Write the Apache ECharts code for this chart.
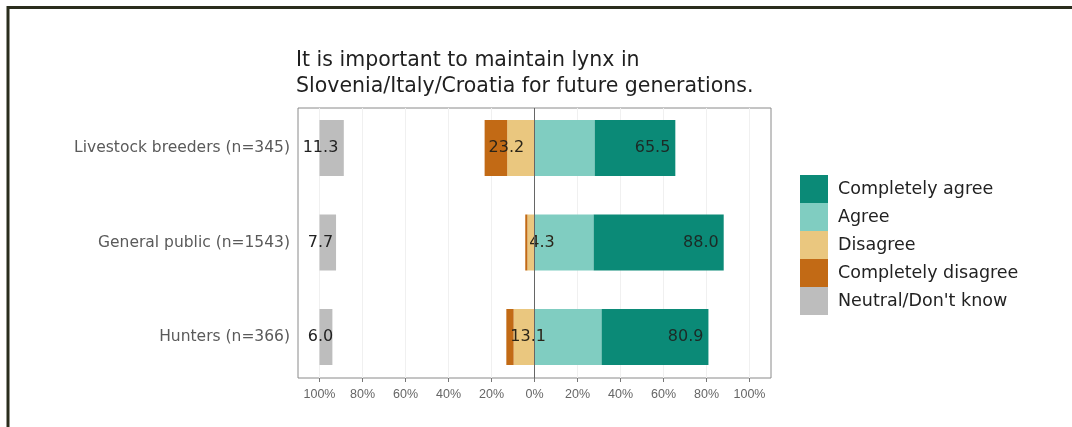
<!DOCTYPE html>
<html>
<head>
<meta charset="utf-8">
<script src="https://cdn.jsdelivr.net/npm/echarts@6/dist/echarts.min.js"></script>
<style>
  html, body { margin: 0; padding: 0; background: #fff; }
  #chart { width: 1072px; height: 427px; }
</style>
</head>
<body>
<div id="chart"></div>
<script>
// groups, top to bottom
var groups = ['Livestock breeders (n=345)', 'General public (n=1543)', 'Hunters (n=366)'];
// shares in percent
var completelyAgree = [37.5, 60.5, 49.7];
var agree = [28.0, 27.5, 31.2];
var disagree = [12.7, 3.3, 9.7];
var completelyDisagree = [10.5, 1.0, 3.4];
var neutral = [11.3, 7.7, 6.0];
// printed totals
var agreeTotal = ['65.5', '88.0', '80.9'];
var disagreeTotal = ['23.2', '4.3', '13.1'];
var neutralTotal = ['11.3', '7.7', '6.0'];
var xTicks = [-100, -80, -60, -40, -20, 0, 20, 40, 60, 80, 100];

var colors = {
    ca: '#0b8a77',
    a: '#80cdc1',
    d: '#eac77f',
    cd: '#c26a15',
    n: '#bdbdbd'
};
var font = 'DejaVu Sans, sans-serif';
var narrow = 'Liberation Sans, Arial, sans-serif';

function neg(arr) {
    return arr.map(function (v) { return -v; });
}

var dom = document.getElementById('chart');
var myChart = echarts.init(dom);

var option = {
    animation: false,
    textStyle: { fontFamily: font },
    graphic: [{
        type: 'rect',
        shape: { x: 8, y: 7.5, width: 1200, height: 600 },
        style: { fill: 'none', stroke: '#2a2d1c', lineWidth: 3 },
        silent: true
    }],
    title: {
        text: 'It is important to maintain lynx in\nSlovenia/Italy/Croatia for future generations.',
        left: 296,
        top: 48,
        padding: 0,
        textStyle: {
            fontSize: 20.5,
            fontWeight: 'normal',
            color: '#1f1f1f',
            lineHeight: 26,
            fontFamily: font
        }
    },
    legend: {
        orient: 'vertical',
        left: 800,
        top: 175,
        padding: 0,
        itemWidth: 28,
        itemHeight: 28,
        itemGap: 0,
        icon: 'rect',
        data: ['Completely agree', 'Agree', 'Disagree', 'Completely disagree', 'Neutral/Don\'t know'],
        textStyle: { fontSize: 17.5, color: '#222', fontFamily: font, padding: [0, 0, 0, 5] }
    },
    grid: [
        // bars
        { left: 298, right: 301, top: 100.75, bottom: 42.75, show: false },
        // panel frame, ticks and gridlines
        { left: 298, right: 301, top: 108, bottom: 49, show: true, borderColor: '#8a8a8a', borderWidth: 1, backgroundColor: 'transparent' }
    ],
    xAxis: [{
        gridIndex: 0,
        type: 'value',
        min: -110,
        max: 110,
        show: false
    }, {
        gridIndex: 1,
        type: 'value',
        min: -110,
        max: 110,
        interval: 10,
        axisLine: { show: false },
        axisTick: { show: true, customValues: xTicks, length: 4, lineStyle: { color: '#777' } },
        axisLabel: {
            customValues: xTicks,
            formatter: function (v) { return Math.abs(v) + '%'; },
            fontSize: 12.5,
            fontFamily: narrow,
            color: '#666',
            margin: 10
        },
        splitLine: { show: true, lineStyle: { color: '#f0f0f0', width: 1 } }
    }],
    yAxis: [{
        gridIndex: 0,
        type: 'category',
        inverse: true,
        data: groups,
        axisLine: { show: false },
        axisTick: { show: true, alignWithLabel: true, length: 5, lineStyle: { color: '#777' } },
        axisLabel: { fontSize: 15.5, color: '#5a5a5a', margin: 8, fontFamily: font }
    }, {
        gridIndex: 1,
        type: 'category',
        data: groups,
        show: false
    }],
    series: [{
        name: 'Agree',
        type: 'bar',
        stack: 'pos',
        barWidth: 56,
        barGap: '-100%',
        itemStyle: { color: colors.a },
        data: agree
    }, {
        name: 'Completely agree',
        type: 'bar',
        stack: 'pos',
        barWidth: 56,
        barGap: '-100%',
        itemStyle: { color: colors.ca },
        label: {
            show: true,
            position: 'insideRight',
            distance: 5,
            fontSize: 16,
            color: '#1c2a26',
            formatter: function (p) { return agreeTotal[p.dataIndex]; }
        },
        data: completelyAgree
    }, {
        name: 'Disagree',
        type: 'bar',
        stack: 'neg',
        barWidth: 56,
        barGap: '-100%',
        itemStyle: { color: colors.d },
        data: neg(disagree)
    }, {
        name: 'Completely disagree',
        type: 'bar',
        stack: 'neg',
        barWidth: 56,
        barGap: '-100%',
        itemStyle: { color: colors.cd },
        label: {
            show: true,
            position: 'insideLeft',
            distance: 4,
            fontSize: 16,
            color: '#2a2418',
            formatter: function (p) { return disagreeTotal[p.dataIndex]; }
        },
        data: neg(completelyDisagree)
    }, {
        name: 'base',
        type: 'bar',
        stack: 'neutral',
        stackStrategy: 'all',
        barWidth: 56,
        barGap: '-100%',
        itemStyle: { color: 'rgba(0,0,0,0)' },
        silent: true,
        data: [-100, -100, -100]
    }, {
        name: 'Neutral/Don\'t know',
        type: 'bar',
        stack: 'neutral',
        stackStrategy: 'all',
        barWidth: 56,
        barGap: '-100%',
        itemStyle: { color: colors.n },
        label: {
            show: true,
            position: [1, '50%'],
            align: 'center',
            verticalAlign: 'middle',
            fontSize: 16,
            color: '#222',
            formatter: function (p) { return neutralTotal[p.dataIndex]; }
        },
        data: neutral
    }, {
        name: 'zero',
        type: 'line',
        xAxisIndex: 1,
        yAxisIndex: 1,
        data: [],
        silent: true,
        markLine: {
            symbol: 'none',
            silent: true,
            label: { show: false },
            lineStyle: { color: '#666', width: 1, type: 'solid' },
            data: [{ xAxis: 0 }]
        }
    }]
};

myChart.setOption(option);
</script>
</body>
</html>
